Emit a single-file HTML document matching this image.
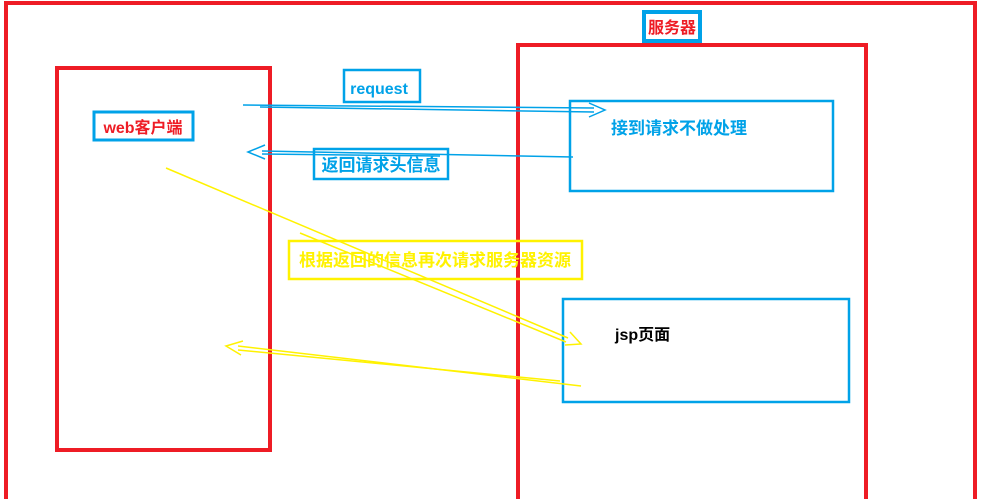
<!DOCTYPE html>
<html><head><meta charset="utf-8"><style>
body{margin:0;background:#fff;}
svg{display:block}
text{font-family:"Liberation Sans","Noto Sans CJK SC",sans-serif;font-weight:bold;}
</style></head><body>
<svg width="981" height="499" viewBox="0 0 981 499" xmlns="http://www.w3.org/2000/svg">
<rect width="981" height="499" fill="#fff"/>
<path d="M6 510 V3 H975 V510" fill="none" stroke="#ee1c25" stroke-width="4"/>
<rect x="57" y="68" width="213" height="382" fill="none" stroke="#ee1c25" stroke-width="4"/>
<path d="M518 510 V45 H866 V510" fill="none" stroke="#ee1c25" stroke-width="4"/>
<rect x="644" y="12" width="56" height="29" fill="#fff" stroke="#00a2e8" stroke-width="4"/>
<text x="672" y="33" font-size="16" fill="#ee1c25" text-anchor="middle">服务器</text>
<rect x="344" y="70" width="76" height="32" fill="none" stroke="#00a2e8" stroke-width="2.5"/>
<text x="379" y="94" font-size="16" fill="#00a2e8" text-anchor="middle">request</text>
<rect x="94" y="112" width="99" height="28" fill="none" stroke="#00a2e8" stroke-width="3"/>
<text x="143" y="133" font-size="16" fill="#ee1c25" text-anchor="middle">web客户端</text>
<rect x="314" y="149" width="134" height="30" fill="none" stroke="#00a2e8" stroke-width="2.5"/>
<text x="381" y="171" font-size="17" fill="#00a2e8" text-anchor="middle">返回请求头信息</text>
<rect x="570" y="101" width="263" height="90" fill="none" stroke="#00a2e8" stroke-width="2.5"/>
<text x="611" y="134" font-size="17" fill="#00a2e8">接到请求不做处理</text>
<line x1="243" y1="105" x2="594" y2="108" stroke="#00a2e8" stroke-width="1.5"/>
<line x1="260" y1="107" x2="594" y2="112" stroke="#00a2e8" stroke-width="1.5"/>
<path d="M589 103 L605 110 L589 117" fill="none" stroke="#00a2e8" stroke-width="1.5"/>
<line x1="573" y1="157" x2="262" y2="151" stroke="#00a2e8" stroke-width="1.5"/>
<line x1="440" y1="156" x2="262" y2="154" stroke="#00a2e8" stroke-width="1.5"/>
<path d="M265 145 L248 152 L265 159" fill="none" stroke="#00a2e8" stroke-width="1.5"/>
<rect x="289" y="241" width="293" height="38" fill="none" stroke="#fff200" stroke-width="2.5"/>
<text x="435" y="266" font-size="17" fill="#fff200" text-anchor="middle">根据返回的信息再次请求服务器资源</text>
<rect x="563" y="299" width="286" height="103" fill="none" stroke="#00a2e8" stroke-width="2.5"/>
<text x="615" y="340" font-size="16" fill="#000">jsp页面</text>
<line x1="166" y1="168" x2="568" y2="338" stroke="#fff200" stroke-width="1.5"/>
<line x1="300" y1="233" x2="566" y2="342" stroke="#fff200" stroke-width="1.5"/>
<path d="M570 332 L581 344 L565 345" fill="none" stroke="#fff200" stroke-width="1.5"/>
<line x1="581" y1="386" x2="238" y2="346" stroke="#fff200" stroke-width="1.5"/>
<line x1="560" y1="381" x2="238" y2="350" stroke="#fff200" stroke-width="1.5"/>
<path d="M243 341 L226 346 L241 355" fill="none" stroke="#fff200" stroke-width="1.5"/>
</svg>
</body></html>
